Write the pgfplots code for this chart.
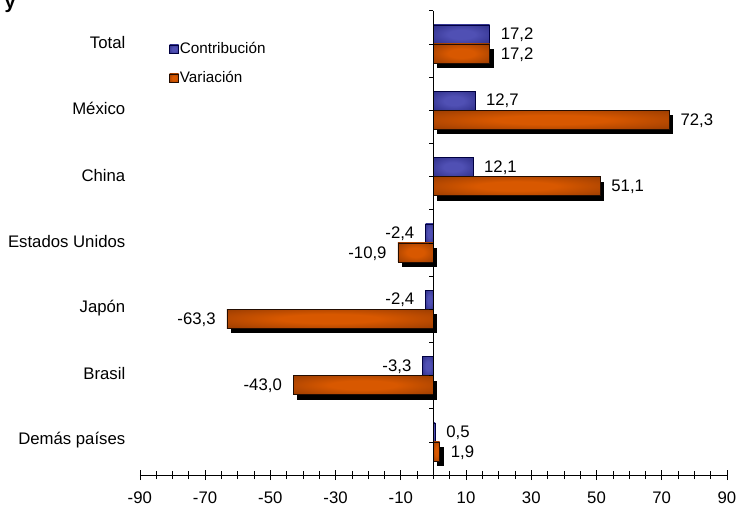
\documentclass[border=0pt]{standalone}
\usepackage{pgfplots}
\pgfplotsset{compat=1.18}
\usepackage{fontspec}
\setmainfont{Liberation Sans}
\definecolor{bluein}{HTML}{5050B4}
\definecolor{blueout}{HTML}{1C1C70}
\definecolor{orgin}{HTML}{D85800}
\definecolor{orgout}{HTML}{762C02}
\pgfdeclareradialshading{blueshade}{\pgfpoint{0bp}{0bp}}{color(0bp)=(bluein); color(12bp)=(bluein); color(50bp)=(blueout)}
\pgfdeclareradialshading{orgshade}{\pgfpoint{0bp}{0bp}}{color(0bp)=(orgin); color(12bp)=(orgin); color(50bp)=(orgout)}
\pgfplotsset{
  lab/.style={point meta=x,
    nodes near coords={\pgfmathprintnumber[fixed, fixed zerofill, precision=1, use comma, assume math mode=true]{\pgfplotspointmeta}},
    every node near coord/.append style={font=\fontsize{16.8}{19}\selectfont, inner xsep=11bp, inner ysep=0bp, black, anchor=west}},
  neg/.style={every node near coord/.append style={anchor=east}},
  cbar/.style={xbar, bar width=19bp, bar shift=9.5bp, draw=black!75!blue, line width=0.6bp, shading=blueshade, lab,
    every node near coord/.append style={yshift=9bp}},
  vbar/.style={xbar, bar width=19bp, bar shift=-9.5bp, draw=black!70!orgout, line width=0.6bp, shading=orgshade, lab,
    every node near coord/.append style={yshift=-10.5bp}},
  sbar/.style={xbar, bar width=19bp, bar shift=-9.5bp, fill=black, draw=none, xshift=4bp, yshift=-5bp, forget plot},
}
\begin{document}
\begin{tikzpicture}
\useasboundingbox (0bp,0bp) rectangle (736bp,-508bp);
\clip (0bp,0bp) rectangle (736bp,-508bp);
\node[anchor=base west, inner sep=0pt, font=\fontsize{20}{22}\selectfont\bfseries] at (4.5bp,-8bp) {y};
\begin{axis}[
  at={(139.8bp,-10.7bp)}, anchor=north west,
  scale only axis, width=587.2bp, height=464.3bp,
  xmin=-90, xmax=90, ymin=-0.5, ymax=6.5,
  axis x line=bottom, axis y line=left, axis line style={-, black, line width=0.6bp},
  y axis line style={draw=none},
  xtick={-90,-70,-50,-30,-10,10,30,50,70,90},
  xticklabels={-90,-70,-50,-30,-10,10,30,50,70,90},
  minor xtick={-85,-80,-75,-65,-60,-55,-45,-40,-35,-25,-20,-15,-5,0,5,15,20,25,35,40,45,55,60,65,75,80,85},
  tick align=center, major tick length=10bp, minor tick length=8bp,
  x tick style={black, line width=0.6bp},
  ytick={0,...,6},
  yticklabels={Demás países,Brasil,Japón,Estados Unidos,China,México,Total},
  y tick style={draw=none},
  tick label style={font=\fontsize{16.8}{19}\selectfont},
  yticklabel style={anchor=east, xshift=-6bp, yshift=1.5bp},
  xticklabel style={yshift=-8.5bp},
  legend image code/.code={\draw[#1] (0bp,-4.2bp) rectangle (9bp,4.2bp);},
  legend style={at={(0.05,0.935)}, anchor=north west, draw=none, fill=none,
    font=\fontsize{15.3}{18}\selectfont, row sep=13bp, inner sep=0bp,
    nodes={inner sep=1bp, text height=11bp, text depth=3bp},
    /tikz/every even column/.append style={column sep=1.5bp}},
  legend cell align=left,
]
% shadows of Variación
\addplot[sbar] coordinates {(17.2,6)};
\addplot[sbar] coordinates {(72.3,5)};
\addplot[sbar] coordinates {(51.1,4)};
\addplot[sbar] coordinates {(-10.9,3)};
\addplot[sbar] coordinates {(-63.3,2)};
\addplot[sbar] coordinates {(-43.0,1)};
\addplot[sbar] coordinates {(1.9,0)};
% Contribución
\addplot[cbar] coordinates {(17.2,6)};
\addlegendentry{Contribución}
\addplot[cbar, forget plot] coordinates {(12.7,5)};
\addplot[cbar, forget plot] coordinates {(12.1,4)};
\addplot[cbar, neg, forget plot] coordinates {(-2.4,3)};
\addplot[cbar, neg, forget plot] coordinates {(-2.4,2)};
\addplot[cbar, neg, forget plot] coordinates {(-3.3,1)};
\addplot[cbar, forget plot] coordinates {(0.5,0)};
% Variación
\addplot[vbar] coordinates {(17.2,6)};
\addlegendentry{Variación}
\addplot[vbar, forget plot] coordinates {(72.3,5)};
\addplot[vbar, forget plot] coordinates {(51.1,4)};
\addplot[vbar, neg, forget plot] coordinates {(-10.9,3)};
\addplot[vbar, neg, forget plot] coordinates {(-63.3,2)};
\addplot[vbar, neg, forget plot] coordinates {(-43.0,1)};
\addplot[vbar, forget plot] coordinates {(1.9,0)};
\draw[black, line width=0.6bp] (axis cs:0,-0.5) -- (axis cs:0,6.5);
\pgfplotsinvokeforeach{-0.5,0,0.5,1,1.5,2,2.5,3,3.5,4,4.5,5,5.5,6,6.5}{
  \draw[black, line width=0.6bp] (axis cs:0,#1) -- ++(-4bp,0bp);
}
\end{axis}
\end{tikzpicture}
\end{document}
